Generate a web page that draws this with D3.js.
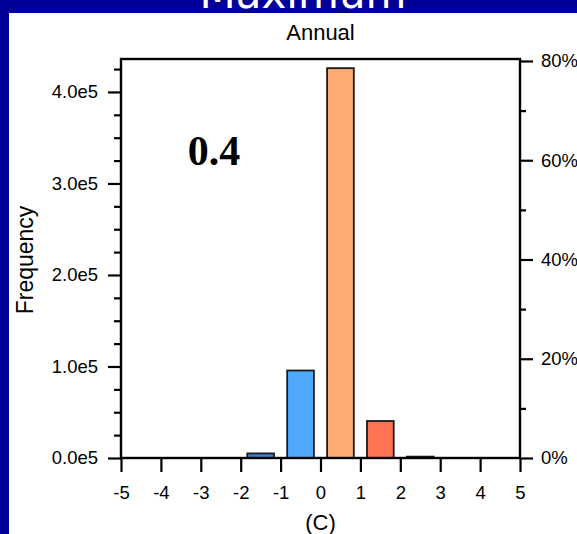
<!DOCTYPE html>
<html>
<head>
<meta charset="utf-8">
<script src="https://cdn.jsdelivr.net/npm/d3@7"></script>
<style>
html,body{margin:0;padding:0;background:#000099;}
svg{display:block;}
</style>
</head>
<body>
<svg id="chart" width="577" height="534"></svg>
<script>
// ---- data ----
const binCenters = [-1.5, -0.5, 0.5, 1.5, 2.5];
const frequencies = [5000, 95600, 426000, 40400, 1500];
const barColors = ["#3a7fe0", "#4faaff", "#ffaa72", "#ff7352", "#ff7352"];
const xTickValues = [-5, -4, -3, -2, -1, 0, 1, 2, 3, 4, 5];
const yTickValues = [0, 100000, 200000, 300000, 400000];
const yTickLabels = ["0.0e5", "1.0e5", "2.0e5", "3.0e5", "4.0e5"];
const yMinorValues = [25000, 50000, 75000, 125000, 150000, 175000, 225000, 250000, 275000, 325000, 350000, 375000, 425000];
const pctTickValues = [0, 20, 40, 60, 80];
const pctMinorValues = [10, 30, 50, 70];
const titleText = "Maximum";
const subTitle = "Annual";
const yTitle = "Frequency";
const xTitle = "(C)";
const annotation = "0.4";

// ---- layout ----
const svg = d3.select("#chart");
const L = 121, R = 520, T = 59, B = 458;
const font = "'Liberation Sans', Arial, Helvetica, sans-serif";
const tickFont = 18.5;
const titleFont = 22;

svg.append("rect").attr("x", 0).attr("y", 0).attr("width", 577).attr("height", 534).attr("fill", "#000099");
svg.append("text").attr("x", 303).attr("y", 8).attr("text-anchor", "middle")
  .attr("fill", "#ffffff").attr("font-family", "'DejaVu Sans', sans-serif").attr("font-size", 42)
  .text(titleText);
svg.append("rect").attr("x", 9).attr("y", 13).attr("width", 577 - 9).attr("height", 534 - 13).attr("fill", "#ffffff");

const x = d3.scaleLinear().domain([-5, 5]).range([L, R]);
const y = d3.scaleLinear().domain([0, 436000]).range([B, T]);
const yp = d3.scaleLinear().domain([0, 80.4]).range([B, T]);
const barW = 0.67;

// bars
svg.append("g").selectAll("rect").data(binCenters).join("rect")
  .attr("x", (d) => x(d - barW / 2))
  .attr("width", (d) => x(d + barW / 2) - x(d - barW / 2))
  .attr("y", (d, i) => y(frequencies[i]))
  .attr("height", (d, i) => Math.max(0, B - y(frequencies[i])))
  .attr("fill", (d, i) => barColors[i])
  .attr("stroke", "#1a1a1a")
  .attr("stroke-width", 1.8);

function styleAxis(g, size) {
  g.select(".domain").remove();
  g.selectAll(".tick line").attr("stroke", "#000").attr("stroke-width", 2.2);
  g.selectAll(".tick text").attr("fill", "#000").attr("font-family", font).attr("font-size", size);
}

// left axis
svg.append("g").attr("transform", `translate(${L},0)`)
  .call(d3.axisLeft(y).tickValues(yMinorValues).tickSize(7).tickFormat(""))
  .call((g) => styleAxis(g, tickFont));
svg.append("g").attr("transform", `translate(${L},0)`)
  .call(d3.axisLeft(y).tickValues(yTickValues).tickSize(13).tickPadding(10)
    .tickFormat((d, i) => yTickLabels[i]))
  .call((g) => styleAxis(g, tickFont));

// right axis
svg.append("g").attr("transform", `translate(${R},0)`)
  .call(d3.axisRight(yp).tickValues(pctMinorValues).tickSize(6).tickFormat(""))
  .call((g) => styleAxis(g, tickFont));
svg.append("g").attr("transform", `translate(${R},0)`)
  .call(d3.axisRight(yp).tickValues(pctTickValues).tickSize(13).tickPadding(8)
    .tickFormat((d) => d + "%"))
  .call((g) => styleAxis(g, tickFont));

// bottom axis
svg.append("g").attr("transform", `translate(0,${B})`)
  .call(d3.axisBottom(x).tickValues(xTickValues).tickSize(14).tickPadding(14)
    .tickFormat((d) => String(d)))
  .call((g) => styleAxis(g, tickFont));

// frame
svg.append("rect").attr("x", L).attr("y", T).attr("width", R - L).attr("height", B - T)
  .attr("fill", "none").attr("stroke", "#000").attr("stroke-width", 2.4);

// titles
svg.append("text").attr("x", (L + R) / 2).attr("y", 40).attr("text-anchor", "middle")
  .attr("font-family", font).attr("font-size", titleFont).attr("fill", "#000").text(subTitle);
svg.append("text").attr("transform", "translate(33,260) rotate(-90)").attr("text-anchor", "middle")
  .attr("font-family", font).attr("font-size", titleFont + 1).attr("fill", "#000").text(yTitle);
svg.append("text").attr("x", (L + R) / 2).attr("y", 530).attr("text-anchor", "middle")
  .attr("font-family", font).attr("font-size", titleFont).attr("fill", "#000").text(xTitle);
svg.append("text").attr("x", 214).attr("y", 165).attr("text-anchor", "middle")
  .attr("font-family", "'Liberation Serif', 'Times New Roman', serif").attr("font-weight", "bold")
  .attr("font-size", 42).attr("fill", "#000").text(annotation);
</script>
</body>
</html>
